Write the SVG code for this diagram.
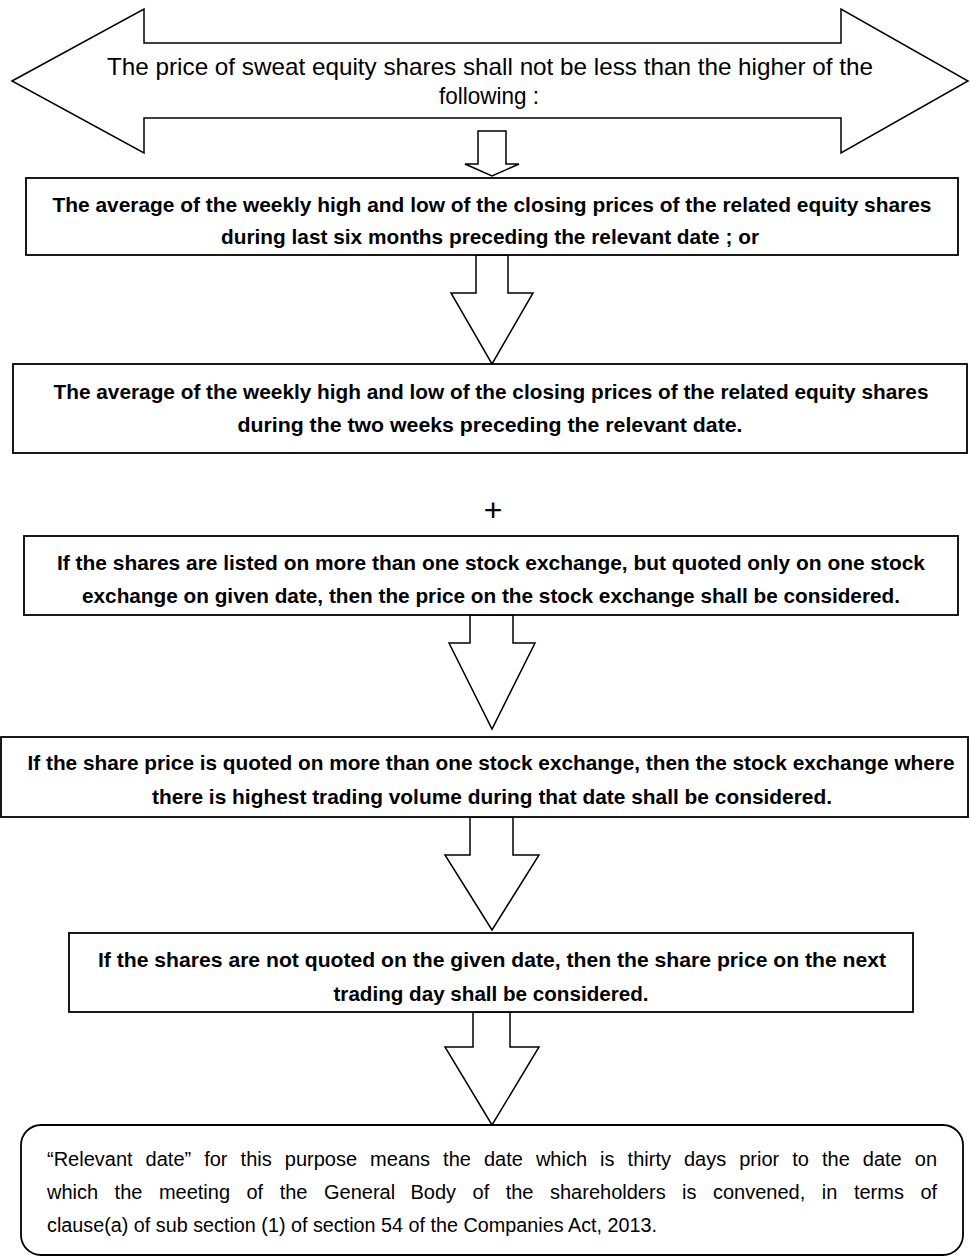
<svg xmlns="http://www.w3.org/2000/svg" width="970" height="1257" viewBox="0 0 970 1257">
<style>
.shape{fill:#fff;stroke:#000;stroke-width:1.5;stroke-linejoin:miter}
.box{fill:#fff;stroke:#000;stroke-width:1.8}
.b{font-family:"Liberation Sans",Arial,sans-serif;font-weight:bold;font-size:21px;fill:#000;text-anchor:middle}
.r{font-family:"Liberation Sans",Arial,sans-serif;font-size:24px;fill:#000;text-anchor:middle}
.n{font-family:"Liberation Sans",Arial,sans-serif;font-size:20px;fill:#000}
</style>
<rect width="970" height="1257" fill="#fff"/>
<g id="title">
<polygon class="shape" points="12,81 144,9 144,43 841,43 841,9 968,81 841,153 841,118 144,118 144,153"/>
<text class="r" x="490" y="75" textLength="766" lengthAdjust="spacingAndGlyphs">The price of sweat equity shares shall not be less than the higher of the</text>
<text class="r" x="489" y="104" textLength="100" lengthAdjust="spacingAndGlyphs">following :</text>
</g>
<g id="connectors">
<polygon class="shape" points="478,131 506,131 506,164 519,164 492,176 465,164 478,164"/>
<polygon class="shape" points="476,255 508,255 508,293 533,293 492,364 451,293 476,293"/>
<polygon class="shape" points="470,615 513,615 513,643 535,643 492,729 449,643 470,643"/>
<polygon class="shape" points="470,817 513,817 513,855 539,855 492,930 445,855 470,855"/>
<polygon class="shape" points="473,1012 510,1012 510,1047 539,1047 492,1125 445,1047 473,1047"/>
</g>
<g id="box1">
<rect class="box" x="26" y="178" width="932" height="77"/>
<text class="b" x="492" y="212" textLength="879" lengthAdjust="spacingAndGlyphs">The average of the weekly high and low of the closing prices of the related equity shares</text>
<text class="b" x="490" y="244" textLength="538" lengthAdjust="spacingAndGlyphs">during last six months preceding the relevant date ; or</text>
</g>
<g id="box2">
<rect class="box" x="13" y="364" width="954" height="89"/>
<text class="b" x="491" y="399" textLength="875" lengthAdjust="spacingAndGlyphs">The average of the weekly high and low of the closing prices of the related equity shares</text>
<text class="b" x="490" y="432" textLength="505" lengthAdjust="spacingAndGlyphs">during the two weeks preceding the relevant date.</text>
</g>
<g id="plus">
<text class="r" x="493" y="521" style="font-size:32px">+</text>
</g>
<g id="box3">
<rect class="box" x="24" y="536" width="934" height="79"/>
<text class="b" x="491" y="570" textLength="868" lengthAdjust="spacingAndGlyphs">If the shares are listed on more than one stock exchange, but quoted only on one stock</text>
<text class="b" x="491" y="603" textLength="818" lengthAdjust="spacingAndGlyphs">exchange on given date, then the price on the stock exchange shall be considered.</text>
</g>
<g id="box4">
<rect class="box" x="1" y="737" width="967" height="80"/>
<text class="b" x="491" y="770" textLength="927" lengthAdjust="spacingAndGlyphs">If the share price is quoted on more than one stock exchange, then the stock exchange where</text>
<text class="b" x="492" y="804" textLength="680" lengthAdjust="spacingAndGlyphs">there is highest trading volume during that date shall be considered.</text>
</g>
<g id="box5">
<rect class="box" x="69" y="933" width="844" height="79"/>
<text class="b" x="492" y="967" textLength="788" lengthAdjust="spacingAndGlyphs">If the shares are not quoted on the given date, then the share price on the next</text>
<text class="b" x="491" y="1001" textLength="315" lengthAdjust="spacingAndGlyphs">trading day shall be considered.</text>
</g>
<g id="note">
<rect class="box" x="21" y="1125" width="942" height="130" rx="20" ry="20"/>
<text class="n" y="1166"><tspan x="47">“Relevant</tspan><tspan x="145.6">date”</tspan><tspan x="204.2">for</tspan><tspan x="240.6">this</tspan><tspan x="284.8">purpose</tspan><tspan x="370.1">means</tspan><tspan x="443.1">the</tspan><tspan x="484">date</tspan><tspan x="535.9">which</tspan><tspan x="600.1">is</tspan><tspan x="627.6">thirty</tspan><tspan x="684">days</tspan><tspan x="739.2">prior</tspan><tspan x="792.3">to</tspan><tspan x="822">the</tspan><tspan x="862.8">date</tspan><tspan x="914.8">on</tspan></text>
<text class="n" y="1199"><tspan x="47">which</tspan><tspan x="114.6">the</tspan><tspan x="158.9">meeting</tspan><tspan x="246.5">of</tspan><tspan x="279.7">the</tspan><tspan x="324">General</tspan><tspan x="410.5">Body</tspan><tspan x="472.6">of</tspan><tspan x="505.7">the</tspan><tspan x="550">shareholders</tspan><tspan x="682.1">is</tspan><tspan x="713">convened,</tspan><tspan x="821.8">in</tspan><tspan x="853.9">terms</tspan><tspan x="920.4">of</tspan></text>
<text class="n" x="47" y="1232" textLength="610" lengthAdjust="spacingAndGlyphs">clause(a) of sub section (1) of section 54 of the Companies Act, 2013.</text>
</g>
</svg>
